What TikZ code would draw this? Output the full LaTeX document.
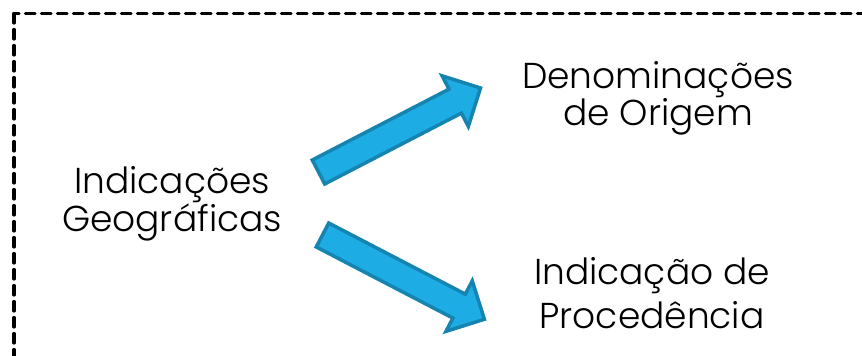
\documentclass[tikz,border=0pt]{standalone}
\usepackage{fontspec}
\setmainfont{Poppins}[UprightFont=* Light]
\definecolor{arrowblue}{HTML}{1DACE3}
\definecolor{arrowedge}{HTML}{1684B0}
\begin{document}
\begin{tikzpicture}[x=1pt, y=1pt, line join=round, line cap=round,
	label/.style={align=center, anchor=base, inner sep=0pt, font=\fontsize{36}{37}\selectfont},
	blockarrow/.style={fill=arrowblue, draw=arrowedge, line width=3.5pt, line join=miter}]
	\def\xmax{862} \def\ymax{356}
	\useasboundingbox (0,0) rectangle (\xmax,\ymax);
	\clip (0,0) rectangle (\xmax,\ymax);
	
	\draw[line width=3.2pt, dash pattern=on 9.5pt off 6.5pt] (14,342.5) rectangle (\xmax+10,-10);
	
	\node[label] (geo) at (172,124) {Indicações\\Geográficas};
	\node[label] (deno) at (658,230) {Denominações\\de Origem};
	\node[label, font=\fontsize{36}{44}\selectfont] (proc) at (652,27) {Indicação de\\Procedência};
	
	\foreach \x/\y/\ang in {318.5/184/27.4, 322.5/121/-27.5}
	\draw[blockarrow, shift={(\x,\y)}, rotate=\ang] (0,-13.5) -- (154,-13.5) -- (154,-28.5)
	-- (182.5,0) -- (154,28.5) -- (154,13.5) -- (0,13.5) -- cycle;
\end{tikzpicture}
\end{document}
